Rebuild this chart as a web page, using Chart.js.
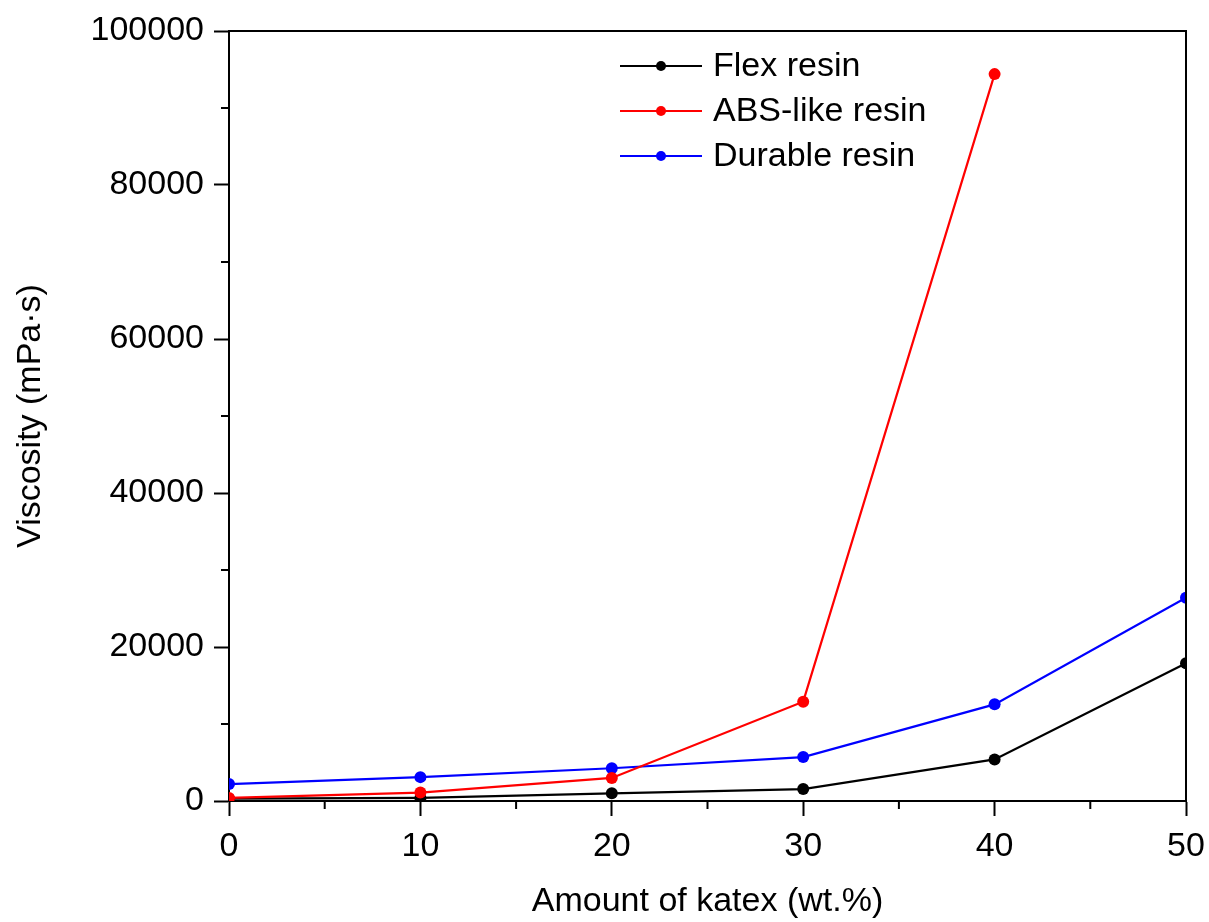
<!DOCTYPE html>
<html lang="en">
<head>
  <meta charset="UTF-8" />
  <title>Viscosity vs katex amount</title>
  <script src="https://cdn.jsdelivr.net/npm/chart.js"></script>
  <style>
    body {
      margin: 0;
      padding: 0;
      background: #ffffff;
    }

    #wrap {
      width: 1209px;
      height: 922px;
    }
  </style>
</head>
<body>

  <div id="wrap">
    <canvas id="viscChart" width="1209" height="922"></canvas>
  </div>

<script>
  // data
  const katexAmount = [0, 10, 20, 30, 40, 50];
  const flexResin = [300, 400, 1000, 1550, 5400, 17900];
  const absLikeResin = [400, 1100, 3000, 12900, 94400, null];
  const durableResin = [2200, 3100, 4250, 5700, 12550, 26400];

  const seriesNames = ['Flex resin', 'ABS-like resin', 'Durable resin'];
  const seriesColors = ['#000000', '#ff0000', '#0000ff'];

  const xMinorTicks = [5, 15, 25, 35, 45];
  const yMinorTicks = [10000, 30000, 50000, 70000, 90000];

  const FONT = '"Liberation Sans", Arial, sans-serif';

  function toPoints(values) {
    return katexAmount.map((x, i) => ({ x: x, y: values[i] }));
  }

  // frame (top/right border) + minor ticks
  const framePlugin = {
    id: 'frame',
    afterDraw(chart) {
      const { ctx, chartArea } = chart;
      const xs = chart.scales.x;
      const ys = chart.scales.y;
      ctx.save();
      ctx.strokeStyle = '#000';
      ctx.lineWidth = 2;
      ctx.beginPath();
      ctx.moveTo(chartArea.left, chartArea.top);
      ctx.lineTo(chartArea.right, chartArea.top);
      ctx.lineTo(chartArea.right, chartArea.bottom);
      ctx.stroke();

      ctx.beginPath();
      xMinorTicks.forEach(v => {
        const px = xs.getPixelForValue(v);
        ctx.moveTo(px, chartArea.bottom);
        ctx.lineTo(px, chartArea.bottom + 8);
      });
      yMinorTicks.forEach(v => {
        const py = ys.getPixelForValue(v);
        ctx.moveTo(chartArea.left, py);
        ctx.lineTo(chartArea.left - 8, py);
      });
      ctx.stroke();
      ctx.restore();
    }
  };

  // legend: line with dot in the middle, like origin
  const legendPlugin = {
    id: 'lineLegend',
    afterDraw(chart) {
      const { ctx } = chart;
      const x0 = 620, x1 = 702, textX = 713;
      const rows = [66, 111, 156];
      ctx.save();
      ctx.font = '34px ' + FONT;
      ctx.textBaseline = 'middle';
      ctx.textAlign = 'left';
      chart.data.datasets.forEach((ds, i) => {
        const y = rows[i];
        ctx.strokeStyle = ds.borderColor;
        ctx.lineWidth = 2;
        ctx.beginPath();
        ctx.moveTo(x0, y);
        ctx.lineTo(x1, y);
        ctx.stroke();
        ctx.fillStyle = ds.borderColor;
        ctx.beginPath();
        ctx.arc((x0 + x1) / 2, y, 5, 0, Math.PI * 2);
        ctx.fill();
        ctx.fillStyle = '#000';
        ctx.fillText(ds.label, textX, y + 1);
      });
      ctx.restore();
    }
  };

  const datasets = [flexResin, absLikeResin, durableResin].map((vals, i) => ({
    label: seriesNames[i],
    data: toPoints(vals),
    borderColor: seriesColors[i],
    backgroundColor: seriesColors[i],
    borderWidth: 2.2,
    pointRadius: 6,
    pointHoverRadius: 6,
    pointBorderWidth: 0,
    tension: 0,
    spanGaps: false,
    order: i === 1 ? 0 : i + 1
  }));

  const ctx = document.getElementById('viscChart').getContext('2d');

  const chart = new Chart(ctx, {
    type: 'line',
    data: { datasets: datasets },
    plugins: [framePlugin, legendPlugin],
    options: {
      responsive: false,
      animation: false,
      layout: {
        padding: { top: 31, right: 23, left: 0, bottom: 0 }
      },
      plugins: {
        legend: { display: false },
        tooltip: { enabled: false }
      },
      scales: {
        x: {
          type: 'linear',
          min: 0,
          max: 50,
          ticks: {
            stepSize: 10,
            color: '#000',
            padding: 10,
            maxRotation: 0,
            font: { family: FONT, size: 34 }
          },
          grid: {
            drawOnChartArea: false,
            drawTicks: true,
            tickLength: 15,
            tickWidth: 2,
            tickColor: '#000'
          },
          border: { display: true, color: '#000', width: 2 },
          title: {
            display: true,
            text: 'Amount of katex (wt.%)',
            color: '#000',
            font: { family: FONT, size: 34 },
            padding: { top: 0, bottom: 0 }
          },
          afterFit(scale) {
            scale.height = 121;
            scale.paddingLeft = 0;
            scale.paddingRight = 0;
          }
        },
        y: {
          min: 0,
          max: 100000,
          ticks: {
            stepSize: 20000,
            color: '#000',
            padding: 10,
            font: { family: FONT, size: 34 },
            callback: v => String(v)
          },
          grid: {
            drawOnChartArea: false,
            drawTicks: true,
            tickLength: 15,
            tickWidth: 2,
            tickColor: '#000'
          },
          border: { display: true, color: '#000', width: 2 },
          title: {
            display: true,
            text: 'Viscosity (mPa\u00b7s)',
            color: '#000',
            font: { family: FONT, size: 34 },
            padding: { top: 10, bottom: 0 }
          },
          afterFit(scale) {
            scale.width = 229;
            scale.paddingTop = 0;
            scale.paddingBottom = 0;
          }
        }
      }
    }
  });
</script>

</body>
</html>
